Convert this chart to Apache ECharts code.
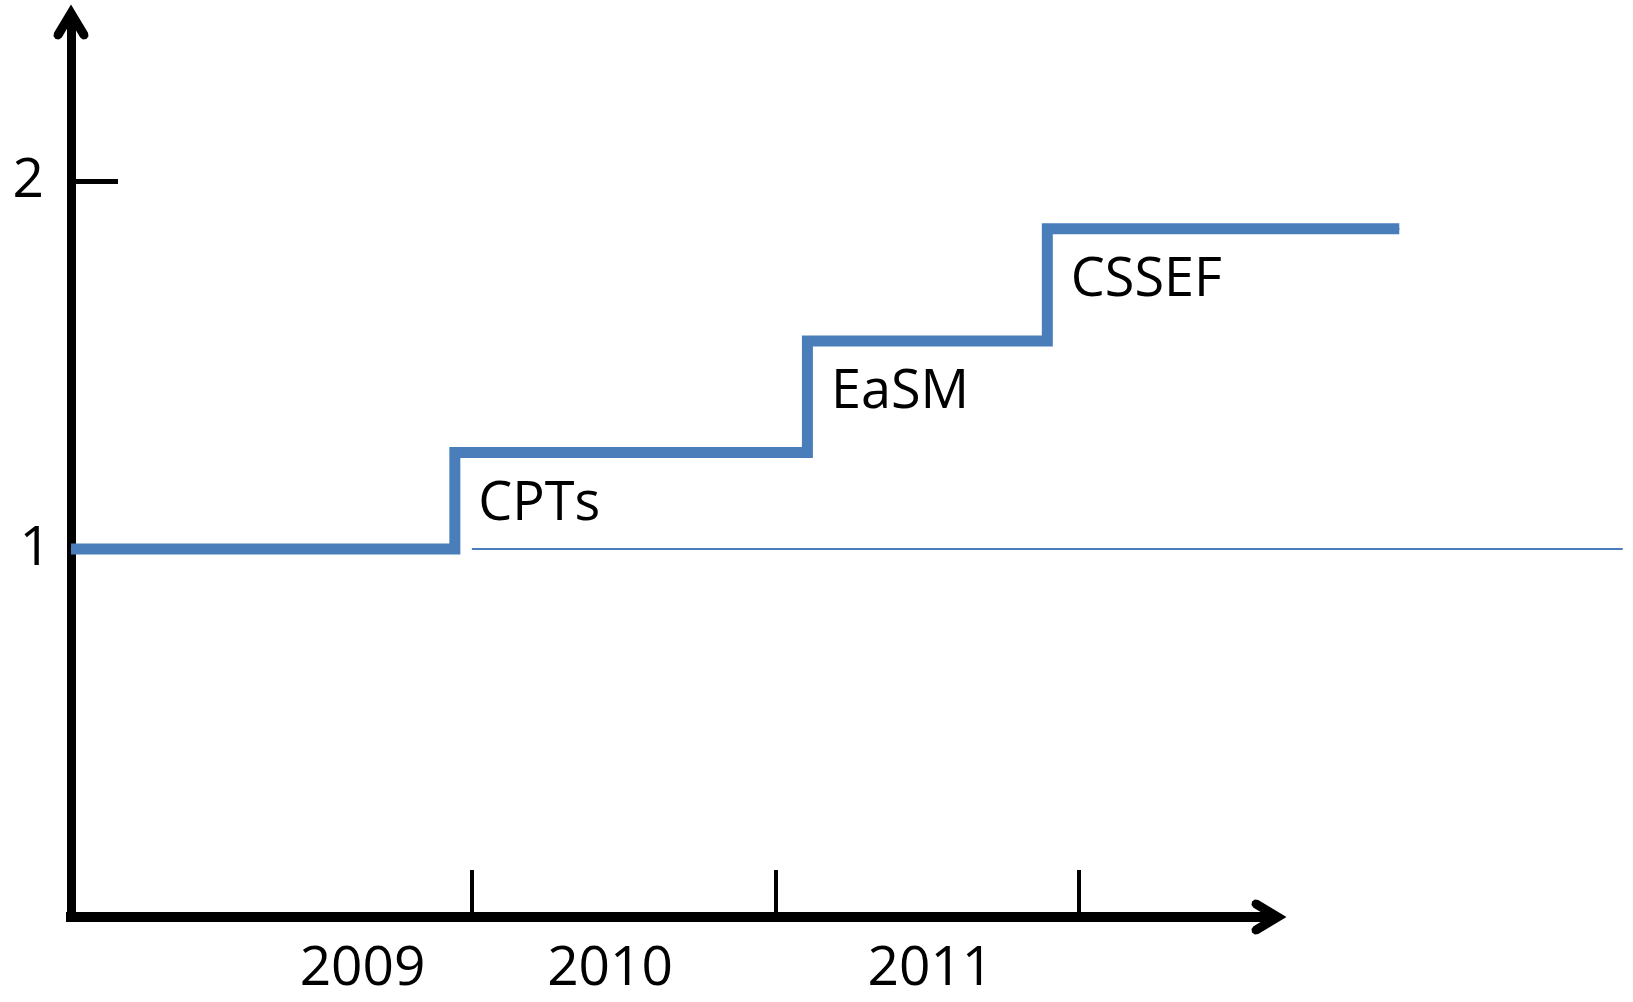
<!DOCTYPE html>
<html>
<head>
<meta charset="utf-8">
<title>step chart</title>
<script src="https://cdn.jsdelivr.net/npm/echarts@6.0.0/dist/echarts.min.js"></script>
<style>
html, body { margin: 0; padding: 0; background: #fff; }
#chart { width: 1633px; height: 1002px; }
</style>
</head>
<body>
<div id="chart"></div>
<script>
// 数据
var stepX = [2008.68, 2009.944, 2011.105, 2011.895, 2013.054];
var stepY = [1, 1.262, 1.565, 1.870, 1.870];
var stepNames = ['', 'CPTs', 'EaSM', 'CSSEF', ''];

var baseX = [2010.0, 2013.79];
var baseY = [1, 1];

var yearTicks = [2010, 2011, 2012];
var yearLabelPos = [2009.64, 2010.455, 2011.51];
var yearLabels = ['2009', '2010', '2011'];

var yTicks = [2];
var yLabels = [1, 2];

// 坐标范围
var xMin = 2008.68, xMax = 2012.625;
var yMin = 0, yMax = 2.432;

// 版面
var chartW = 1633;
var gridLeft = 71, gridRight = 364, gridTop = 22, gridBottom = 85;
// 数据用的网格更宽, 线可以画过箭头
var pxPerYear = (chartW - gridLeft - gridRight) / (xMax - xMin);
var xMaxWide = xMin + (chartW - gridLeft) / pxPerYear;

// 开口箭头
var chevron = 'path://M17.4,0 L34.26,28.05 L34.77,31.46 L32.72,34.23 L29.31,34.74 L26.54,32.69 L17.4,17.48 L8.26,32.69 L5.49,34.74 L2.08,34.23 L0.03,31.46 L0.54,28.05 Z';
var font = 'Open Sans';
var blue = '#4a7ebb';

function buildStep() {
	var data = [];
	for (var i = 0; i < stepX.length; i++) {
		var item = { value: [stepX[i], stepY[i]] };
		if (stepNames[i] != '') {
			item.label = { show: true, formatter: stepNames[i] };
		}
		data.push(item);
	}
	return data;
}

function buildBase() {
	var data = [];
	for (var i = 0; i < baseX.length; i++) {
		data.push([baseX[i], baseY[i]]);
	}
	return data;
}

function yearText(v) {
	var best = 0;
	for (var i = 1; i < yearLabelPos.length; i++) {
		if (Math.abs(yearLabelPos[i] - v) < Math.abs(yearLabelPos[best] - v)) best = i;
	}
	return yearLabels[best];
}

// "1" 比 "2" 靠右一点
function yText(v) {
	if (v == 1) return '{one|1}';
	return '{two|' + v + '}';
}

var myChart = echarts.init(document.getElementById('chart'));

var option = {
	animation: false,
	backgroundColor: '#fff',
	grid: [
		{ left: gridLeft, right: 0, top: gridTop, bottom: gridBottom, containLabel: false },
		{ left: gridLeft, right: gridRight, top: gridTop, bottom: gridBottom, containLabel: false }
	],
	xAxis: [
		{
			gridIndex: 0,
			type: 'value',
			min: xMin,
			max: xMaxWide,
			show: false
		},
		{
			gridIndex: 1,
			type: 'value',
			min: xMin,
			max: xMax,
			splitLine: { show: false },
			axisLine: {
				show: true,
				onZero: false,
				symbol: ['none', chevron],
				symbolSize: [35, 35],
				lineStyle: { color: '#000', width: 10, cap: 'square' }
			},
			axisTick: {
				show: true,
				inside: true,
				length: 47,
				customValues: yearTicks,
				lineStyle: { color: '#000', width: 4 }
			},
			axisLabel: {
				show: true,
				customValues: yearLabelPos,
				formatter: yearText,
				color: '#000',
				fontFamily: font,
				fontSize: 55,
				verticalAlign: 'middle',
				margin: 52
			}
		}
	],
	yAxis: [
		{
			gridIndex: 0,
			type: 'value',
			min: yMin,
			max: yMax,
			splitLine: { show: false },
			axisLine: {
				show: true,
				onZero: false,
				symbol: ['none', chevron],
				symbolSize: [35, 35],
				lineStyle: { color: '#000', width: 9, cap: 'square' }
			},
			axisTick: {
				show: true,
				inside: true,
				length: 47,
				customValues: yTicks,
				lineStyle: { color: '#000', width: 5 }
			},
			axisLabel: {
				show: true,
				customValues: yLabels,
				formatter: yText,
				color: '#000',
				fontFamily: font,
				fontSize: 55,
				margin: 20,
				rich: {
					one: { color: '#000', fontFamily: font, fontSize: 55, padding: [0, 0, 0, 0] },
					two: { color: '#000', fontFamily: font, fontSize: 55, padding: [0, 7, 0, 0] }
				}
			}
		},
		{
			gridIndex: 1,
			type: 'value',
			min: yMin,
			max: yMax,
			show: false
		}
	],
	series: [
		{
			name: 'base',
			type: 'line',
			xAxisIndex: 0,
			yAxisIndex: 0,
			clip: false,
			symbol: 'none',
			silent: true,
			lineStyle: { color: blue, width: 2 },
			data: buildBase()
		},
		{
			name: 'step',
			type: 'line',
			xAxisIndex: 0,
			yAxisIndex: 0,
			step: 'end',
			clip: false,
			silent: true,
			symbol: 'circle',
			symbolSize: 1,
			showAllSymbol: true,
			itemStyle: { color: blue },
			lineStyle: { color: blue, width: 11, join: 'miter' },
			label: {
				show: false,
				position: 'right',
				distance: 0,
				offset: [23, 52],
				color: '#000',
				fontFamily: font,
				fontSize: 54
			},
			data: buildStep()
		}
	]
};

myChart.setOption(option);
</script>
</body>
</html>
